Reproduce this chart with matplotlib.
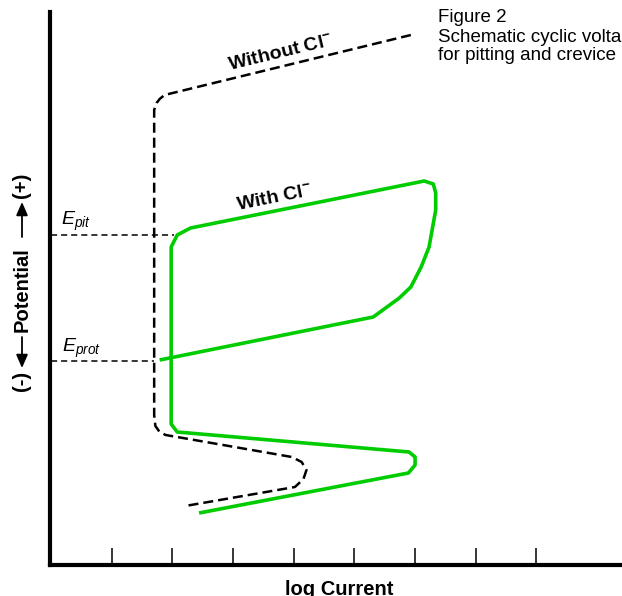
"""Schematic cyclic polarisation curves (Figure 2): pitting with and without Cl-."""

import matplotlib

matplotlib.use("Agg")

import matplotlib.pyplot as plt  # noqa: E402

plt.rcParams["font.family"] = ["Liberation Sans", "DejaVu Sans"]
plt.rcParams["mathtext.fontset"] = "custom"
plt.rcParams["mathtext.rm"] = "Liberation Sans"
plt.rcParams["mathtext.it"] = "Liberation Sans:italic"
plt.rcParams["mathtext.bf"] = "Liberation Sans:bold"

# log current (x) / potential (y), arbitrary units
without_cl_x = [5.93, 1.87, 1.79, 1.74, 1.70, 1.70, 1.72, 1.79, 1.89,
                3.97, 4.13, 4.21, 4.16, 4.02, 2.21]
without_cl_y = [10.60, 9.40, 9.32, 9.24, 9.10, 3.00, 2.78, 2.66, 2.60,
                2.16, 2.06, 1.90, 1.72, 1.56, 1.18]

with_cl_x = [2.44, 5.89, 6.00, 6.00, 5.90, 2.08, 1.98, 1.98, 2.08, 2.30,
             6.15, 6.30, 6.34, 6.34, 6.23, 6.10, 5.93, 5.74, 5.31, 1.79]
with_cl_y = [1.04, 1.84, 2.00, 2.16, 2.26, 2.66, 2.82, 6.36, 6.60, 6.74,
             7.68, 7.62, 7.44, 7.10, 6.36, 5.96, 5.56, 5.34, 4.96, 4.10]

E_PIT = 6.60
E_PIT_X_END = 2.03
E_PROT = 4.08
E_PROT_X_END = 1.70

TICKS = [1, 2, 3, 4, 5, 6, 7, 8]
GREEN = "#00cc00"

W, H = 622, 596
fig = plt.figure(figsize=(W / 100, H / 100), dpi=100)
ax = fig.add_axes([49.5 / W, (H - 565) / H, (W - 49.5) / W, (565 - 12) / H])
ax.set_xlim(-0.025, 9.41)
ax.set_ylim(0, 11.06)

ax.plot(without_cl_x, without_cl_y, color="black", lw=1.8,
        ls=(0, (4, 2)), solid_joinstyle="round")
ax.plot(with_cl_x, with_cl_y, color=GREEN, lw=2.6,
        solid_joinstyle="round", solid_capstyle="butt")
ax.plot([0, E_PIT_X_END], [E_PIT, E_PIT], color="black", lw=1.1, ls=(0, (4, 2.6)))
ax.plot([0, E_PROT_X_END], [E_PROT, E_PROT], color="black", lw=1.1, ls=(0, (4, 2.6)))

ax.text(0.165, 6.80, r"$E_{pit}$", fontsize=14, ha="left", va="baseline")
ax.text(0.185, 4.26, r"$E_{prot}$", fontsize=14, ha="left", va="baseline")
ax.text(2.95, 9.90, r"Without Cl$^{\mathbf{-}}$", fontsize=14, fontweight="bold",
        rotation=13.6, rotation_mode="anchor", ha="left", va="baseline")
ax.text(3.07, 7.10, r"With Cl$^{\mathbf{-}}$", fontsize=14, fontweight="bold",
        rotation=11.3, rotation_mode="anchor", ha="left", va="baseline")

for side in ("top", "right"):
    ax.spines[side].set_visible(False)
for side in ("left", "bottom"):
    ax.spines[side].set_linewidth(3)
ax.set_xticks(TICKS)
ax.set_xticklabels([])
ax.set_yticks([])
ax.tick_params(axis="x", direction="in", length=12, width=1.1, color="black")

# y label built from pieces so the arrows get filled heads
LX = 22
ylab = dict(rotation=90, fontsize=14.5, fontweight="bold", ha="center", va="center")
fig.text(LX / W, 1 - 185 / H, "(+)", **ylab)
fig.text(LX / W, 1 - 290 / H, "Potential", **ylab)
fig.text(LX / W, 1 - 381 / H, "(-)", **ylab)
arrow = dict(arrowstyle="-|>,head_length=0.8,head_width=0.35", lw=1.3,
             color="black", shrinkA=0, shrinkB=0, mutation_scale=10)
fig.add_artist(matplotlib.patches.FancyArrowPatch(
    (LX, H - 237), (LX, H - 202), transform=None, **arrow))
fig.add_artist(matplotlib.patches.FancyArrowPatch(
    (LX, H - 337), (LX, H - 368), transform=None, **arrow))

fig.text(339 / W, 1 - 595 / H, "log Current", fontsize=14.5, fontweight="bold",
         ha="center", va="baseline")

fig.text(438 / W, 1 - 22 / H, "Figure 2", fontsize=13.5, va="baseline")
fig.text(438 / W, 1 - 41.5 / H, "Schematic cyclic voltammetry curves",
         fontsize=13.5, va="baseline")
fig.text(438 / W, 1 - 60.5 / H, "for pitting and crevice corrosion",
         fontsize=13.5, va="baseline")

fig.savefig("out.png", dpi=100)
plt.close(fig)
